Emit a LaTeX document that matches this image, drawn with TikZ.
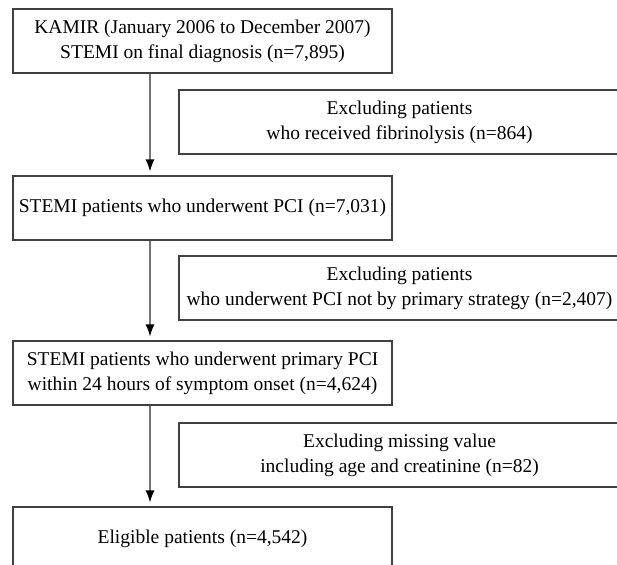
\documentclass[tikz,border=0pt]{standalone}
\usepackage{fontspec}
\setmainfont{Liberation Serif}
\usetikzlibrary{arrows.meta}

\begin{document}
\begin{tikzpicture}[%
        x=1pt, y=-1pt,
        mainbox/.style={draw=black!75, line width=1.1pt, minimum width=379pt,
            minimum height=64pt, inner sep=0pt, align=center,
            font=\fontsize{19.5}{25}\selectfont},
        exbox/.style={mainbox, minimum width=441pt},
        flow/.style={draw=black!55, line width=1.2pt, shorten >=4pt,
            -{Latex[length=12pt,width=9pt,black]}}
    ]
        \useasboundingbox (0,0) rectangle (617,564);
        \clip (0,0) rectangle (617,564);

        % main column
        \node [mainbox] (kamir) at (202.5,41)
            {KAMIR (January 2006 to December 2007)\\
             STEMI on final diagnosis (n=7,895)};
        \node [mainbox] (pci) at (202.5,208)
            {STEMI patients who underwent PCI (n=7,031)};
        \node [mainbox] (primary) at (202.5,373)
            {STEMI patients who underwent primary PCI\\
             within 24 hours of symptom onset (n=4,624)};
        \node [mainbox] (eligible) at (202.5,539)
            {Eligible patients (n=4,542)};

        % exclusions
        \node [exbox] (fibrino) at (399.5,122)
            {Excluding patients\\
             who received fibrinolysis (n=864)};
        \node [exbox] (strategy) at (399.5,288)
            {Excluding patients\\
             who underwent PCI not by primary strategy (n=2,407)};
        \node [exbox] (missing) at (399.5,455)
            {Excluding missing value\\
             including age and creatinine (n=82)};

        \coordinate (spine) at (150,0);
        \foreach \a/\b in {kamir/pci,pci/primary,primary/eligible}
            \draw [flow] (\a.south -| spine) -- (\b.north -| spine);
\end{tikzpicture}
\end{document}
